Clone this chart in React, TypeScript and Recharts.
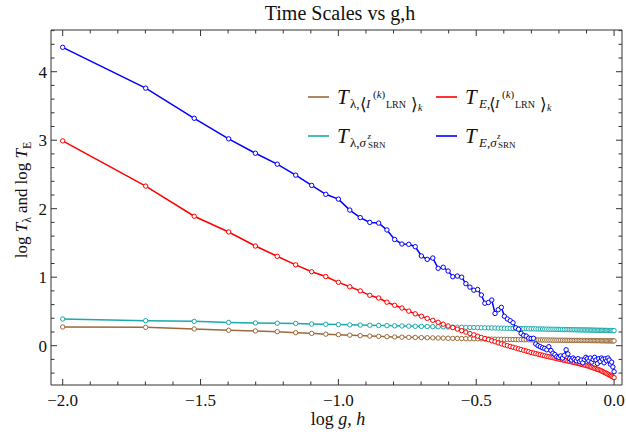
import React from 'react';
import { LineChart, Line, XAxis, YAxis } from 'recharts';

const gValues = [
  0.01, 0.02, 0.03, 0.04, 0.05, 0.06, 0.07, 0.08, 0.09, 0.10,
  0.11, 0.12, 0.13, 0.14, 0.15, 0.16, 0.17, 0.18, 0.19, 0.20,
  0.21, 0.22, 0.23, 0.24, 0.25, 0.26, 0.27, 0.28, 0.29, 0.30,
  0.31, 0.32, 0.33, 0.34, 0.35, 0.36, 0.37, 0.38, 0.39, 0.40,
  0.41, 0.42, 0.43, 0.44, 0.45, 0.46, 0.47, 0.48, 0.49, 0.50,
  0.51, 0.52, 0.53, 0.54, 0.55, 0.56, 0.57, 0.58, 0.59, 0.60,
  0.61, 0.62, 0.63, 0.64, 0.65, 0.66, 0.67, 0.68, 0.69, 0.70,
  0.71, 0.72, 0.73, 0.74, 0.75, 0.76, 0.77, 0.78, 0.79, 0.80,
  0.81, 0.82, 0.83, 0.84, 0.85, 0.86, 0.87, 0.88, 0.89, 0.90,
  0.91, 0.92, 0.93, 0.94, 0.95, 0.96, 0.97, 0.98, 0.99, 1.00,
];

// T_{λ,<I^(k)_LRN>_k}  (brown)
const tLambdaLRN = [
  0.273, 0.268, 0.244, 0.225, 0.215, 0.205, 0.19, 0.18, 0.168, 0.161,
  0.154, 0.147, 0.141, 0.136, 0.131, 0.127, 0.124, 0.122, 0.12, 0.118,
  0.116, 0.114, 0.112, 0.11, 0.108, 0.107, 0.106, 0.104, 0.103, 0.102,
  0.101, 0.1, 0.099, 0.098, 0.097, 0.096, 0.095, 0.094, 0.093, 0.092,
  0.091, 0.09, 0.0895, 0.089, 0.088, 0.088, 0.087, 0.087, 0.086, 0.086,
  0.085, 0.085, 0.084, 0.084, 0.083, 0.083, 0.082, 0.082, 0.082, 0.081,
  0.081, 0.08, 0.08, 0.08, 0.079, 0.079, 0.079, 0.078, 0.078, 0.078,
  0.077, 0.077, 0.077, 0.077, 0.076, 0.076, 0.076, 0.076, 0.075, 0.075,
  0.075, 0.075, 0.074, 0.074, 0.074, 0.073, 0.073, 0.073, 0.073, 0.072,
  0.072, 0.072, 0.072, 0.071, 0.071, 0.071, 0.071, 0.07, 0.07, 0.07,
];

// T_{E,<I^(k)_LRN>_k}  (red)
const tEnergyLRN = [
  2.99, 2.33, 1.89, 1.66, 1.455, 1.305, 1.18, 1.08, 1.01, 0.925,
  0.86, 0.8, 0.735, 0.696, 0.635, 0.59, 0.55, 0.505, 0.465, 0.43,
  0.399, 0.37, 0.341, 0.314, 0.288, 0.264, 0.242, 0.219, 0.198, 0.177,
  0.158, 0.139, 0.12, 0.105, 0.088, 0.072, 0.057, 0.041, 0.027, 0.013,
  0.0, -0.011, -0.023, -0.034, -0.046, -0.057, -0.068, -0.078, -0.089, -0.099,
  -0.108, -0.116, -0.124, -0.132, -0.14, -0.148, -0.155, -0.162, -0.169, -0.175,
  -0.182, -0.188, -0.194, -0.2, -0.207, -0.213, -0.218, -0.225, -0.23, -0.236,
  -0.241, -0.247, -0.253, -0.259, -0.265, -0.271, -0.276, -0.282, -0.288, -0.294,
  -0.301, -0.309, -0.316, -0.324, -0.331, -0.338, -0.346, -0.352, -0.359, -0.368,
  -0.378, -0.388, -0.396, -0.406, -0.416, -0.425, -0.436, -0.446, -0.457, -0.467,
];

// T_{λ,σ^z_SRN}  (cyan)
const tLambdaSRN = [
  0.39, 0.365, 0.355, 0.34, 0.332, 0.328, 0.325, 0.317, 0.313, 0.308,
  0.304, 0.301, 0.298, 0.295, 0.293, 0.29, 0.288, 0.286, 0.283, 0.282,
  0.28, 0.278, 0.276, 0.275, 0.273, 0.271, 0.27, 0.269, 0.267, 0.266,
  0.265, 0.264, 0.262, 0.261, 0.26, 0.259, 0.258, 0.257, 0.256, 0.255,
  0.254, 0.253, 0.252, 0.251, 0.251, 0.25, 0.249, 0.248, 0.247, 0.246,
  0.246, 0.245, 0.244, 0.244, 0.243, 0.242, 0.241, 0.241, 0.24, 0.24,
  0.239, 0.238, 0.238, 0.237, 0.236, 0.236, 0.235, 0.235, 0.234, 0.234,
  0.233, 0.233, 0.232, 0.232, 0.231, 0.23, 0.23, 0.23, 0.229, 0.229,
  0.228, 0.228, 0.227, 0.227, 0.226, 0.226, 0.225, 0.225, 0.224, 0.224,
  0.224, 0.223, 0.223, 0.222, 0.222, 0.222, 0.221, 0.221, 0.22, 0.22,
];

// T_{E,σ^z_SRN}  (blue)
const tEnergySRN = [
  4.356, 3.76, 3.32, 3.02, 2.81, 2.65, 2.49, 2.34, 2.21, 2.14,
  1.98, 1.87, 1.8, 1.79, 1.69, 1.55, 1.485, 1.48, 1.445, 1.31,
  1.26, 1.28, 1.13, 1.145, 1.09, 1.007, 1.017, 1.0, 0.905, 0.855,
  0.81, 0.82, 0.74, 0.62, 0.63, 0.667, 0.47, 0.525, 0.56, 0.43,
  0.39, 0.365, 0.335, 0.26, 0.24, 0.18, 0.15, 0.14, 0.11, 0.105,
  0.108, 0.025, 0.0, -0.015, -0.03, -0.04, -0.06, -0.015, -0.07, -0.11,
  -0.13, -0.16, -0.17, -0.15, -0.18, -0.14, -0.06, -0.12, -0.19, -0.21,
  -0.18, -0.2, -0.22, -0.19, -0.23, -0.21, -0.25, -0.2, -0.17, -0.19,
  -0.22, -0.18, -0.24, -0.2, -0.17, -0.21, -0.26, -0.19, -0.23, -0.18,
  -0.2, -0.25, -0.19, -0.22, -0.18, -0.21, -0.27, -0.24, -0.31, -0.38,
];

const xTicks = [-2.0, -1.9, -1.8, -1.7, -1.6, -1.5, -1.4, -1.3, -1.2, -1.1, -1.0, -0.9, -0.8, -0.7, -0.6, -0.5, -0.4, -0.3, -0.2, -0.1, 0.0];
const xMajorTicks = [-2.0, -1.5, -1.0, -0.5, 0.0];
const yTicks = [-0.4, -0.2, 0, 0.2, 0.4, 0.6, 0.8, 1, 1.2, 1.4, 1.6, 1.8, 2, 2.2, 2.4, 2.6, 2.8, 3, 3.2, 3.4, 3.6, 3.8, 4, 4.2, 4.4, 4.6];
const yMajorTicks = [0, 1, 2, 3, 4];

const data = gValues.map((g, i) => ({
  x: Math.log10(g),
  brown: tLambdaLRN[i],
  red: tEnergyLRN[i],
  cyan: tLambdaSRN[i],
  blue: tEnergySRN[i],
}));

const X_DOMAIN: [number, number] = [-2.0424, 0.0287];
const Y_DOMAIN: [number, number] = [-0.574, 4.609];

const FONT = '"Liberation Serif", "DejaVu Serif", serif';
const FRAME = '#333';
const C_BROWN = '#9a6a3a';
const C_RED = '#ff0000';
const C_CYAN = '#19aaaa';
const C_BLUE = '#0000ff';

const isMajor = (v: number, majors: number[]) => majors.some((m) => Math.abs(m - v) < 1e-6);
const fmtX = (v: number) => (Math.abs(v) < 1e-9 ? '0.0' : v.toFixed(1).replace('-', '\u2212'));

const makeXTick = (side: 'bottom' | 'top') => (props: any) => {
  const { x, y, payload } = props;
  const v = payload.value as number;
  const major = isMajor(v, xMajorTicks);
  const len = major ? 6 : 3.5;
  const dir = side === 'bottom' ? -1 : 1;
  return (
    <g>
      <line x1={x} x2={x} y1={y} y2={y + dir * len} stroke={FRAME} strokeWidth={1} />
      {side === 'bottom' && major ? (
        <text x={x} y={y + 21} textAnchor="middle" fontFamily="Liberation Serif" fontSize={17} fill="#111">
          {fmtX(v)}
        </text>
      ) : null}
    </g>
  );
};

const makeYTick = (side: 'left' | 'right') => (props: any) => {
  const { x, y, payload } = props;
  const v = payload.value as number;
  const major = isMajor(v, yMajorTicks);
  const len = major ? 6 : 3.5;
  const dir = side === 'left' ? 1 : -1;
  return (
    <g>
      <line x1={x} x2={x + dir * len} y1={y} y2={y} stroke={FRAME} strokeWidth={1} />
      {side === 'left' && major ? (
        <text x={x - 4} y={y + 6} textAnchor="end" fontFamily="Liberation Serif" fontSize={17} fill="#111">
          {String(Math.round(v))}
        </text>
      ) : null}
    </g>
  );
};

const dot = (c: string) => ({ r: 2.2, fill: '#ffffff', stroke: c, strokeWidth: 1 });

const LegendSample = ({ x, y, color }: { x: number; y: number; color: string }) => (
  <line x1={x} x2={x + 21} y1={y} y2={y} stroke={color} strokeWidth={1.6} />
);

export default function App() {
  return (
    <div style={{ position: 'absolute', left: 0, top: 0, width: 626, height: 436, background: '#fff', fontFamily: FONT }}>
      <LineChart
        width={626}
        height={436}
        data={data}
        margin={{ top: 20, right: 0, bottom: 21, left: 21 }}
      >
        <XAxis
          dataKey="x"
          type="number"
          domain={X_DOMAIN}
          allowDataOverflow
          ticks={xTicks}
          interval={0}
          tickSize={0}
          tickMargin={0}
          height={30}
          axisLine={{ stroke: FRAME }}
          tickLine={false}
          tick={makeXTick('bottom')}
        />
        <XAxis
          xAxisId="top"
          orientation="top"
          dataKey="x"
          type="number"
          domain={X_DOMAIN}
          allowDataOverflow
          ticks={xTicks}
          interval={0}
          tickSize={0}
          tickMargin={0}
          height={10}
          axisLine={{ stroke: FRAME }}
          tickLine={false}
          tick={makeXTick('top')}
        />
        <YAxis
          type="number"
          domain={Y_DOMAIN}
          allowDataOverflow
          ticks={yTicks}
          interval={0}
          tickSize={0}
          tickMargin={0}
          width={30}
          axisLine={{ stroke: FRAME }}
          tickLine={false}
          tick={makeYTick('left')}
        />
        <YAxis
          yAxisId="right"
          orientation="right"
          type="number"
          domain={Y_DOMAIN}
          allowDataOverflow
          ticks={yTicks}
          interval={0}
          tickSize={0}
          tickMargin={0}
          width={4}
          axisLine={{ stroke: FRAME }}
          tickLine={false}
          tick={makeYTick('right')}
        />
        <Line dataKey="brown" stroke={C_BROWN} strokeWidth={1.5} dot={dot(C_BROWN)} isAnimationActive={false} />
        <Line dataKey="cyan" stroke={C_CYAN} strokeWidth={1.5} dot={dot(C_CYAN)} isAnimationActive={false} />
        <Line dataKey="red" stroke={C_RED} strokeWidth={1.5} dot={dot(C_RED)} isAnimationActive={false} />
        <Line dataKey="blue" stroke={C_BLUE} strokeWidth={1.5} dot={dot(C_BLUE)} isAnimationActive={false} />
      </LineChart>
      <svg
        width={626}
        height={436}
        style={{ position: 'absolute', left: 0, top: 0, pointerEvents: 'none', fontFamily: FONT }}
        fill="#111"
      >
        <text x={340} y={20} textAnchor="middle" fontSize={20}>Time Scales vs g,h</text>

        <text x={338} y={425} textAnchor="middle" fontSize={18}>
          log <tspan fontStyle="italic">g</tspan>, <tspan fontStyle="italic">h</tspan>
        </text>

        <text transform="translate(27,200) rotate(-90)" textAnchor="middle" fontSize={17}>
          log <tspan fontStyle="italic">T</tspan>
          <tspan fontSize={12} dy={4}>λ</tspan>
          <tspan dy={-4} dx={4}>and</tspan>
          <tspan dx={4}>log </tspan>
          <tspan fontStyle="italic">T</tspan>
          <tspan fontSize={12} dy={4}>E</tspan>
        </text>

        <LegendSample x={308} y={97} color={C_BROWN} />
        <text fontSize={21}>
          <tspan x={337} y={104} fontStyle="italic">T</tspan>
          <tspan x={350} y={108} fontSize={13}>λ,</tspan>
          <tspan x={360} y={110} fontSize={17}>⟨</tspan>
          <tspan x={366} y={108} fontSize={13} fontStyle="italic">I</tspan>
          <tspan x={373} y={98} fontSize={11}>(<tspan fontStyle="italic">k</tspan>)</tspan>
          <tspan x={386} y={108} fontSize={10}>LRN</tspan>
          <tspan x={411} y={110} fontSize={17}>⟩</tspan>
          <tspan x={418} y={111} fontSize={10} fontStyle="italic">k</tspan>
        </text>

        <LegendSample x={436} y={97} color={C_RED} />
        <text fontSize={21}>
          <tspan x={465} y={104} fontStyle="italic">T</tspan>
          <tspan x={479} y={108} fontSize={13} fontStyle="italic">E</tspan>
          <tspan fontSize={13}>,</tspan>
          <tspan x={489} y={110} fontSize={17}>⟨</tspan>
          <tspan x={495} y={108} fontSize={13} fontStyle="italic">I</tspan>
          <tspan x={502} y={98} fontSize={11}>(<tspan fontStyle="italic">k</tspan>)</tspan>
          <tspan x={515} y={108} fontSize={10}>LRN</tspan>
          <tspan x={540} y={110} fontSize={17}>⟩</tspan>
          <tspan x={547} y={111} fontSize={10} fontStyle="italic">k</tspan>
        </text>

        <LegendSample x={308} y={136} color={C_CYAN} />
        <text fontSize={21}>
          <tspan x={337} y={143} fontStyle="italic">T</tspan>
          <tspan x={350} y={147} fontSize={13}>λ,</tspan>
          <tspan fontSize={13} fontStyle="italic">σ</tspan>
          <tspan x={367.5} y={139} fontSize={9} fontStyle="italic">z</tspan>
          <tspan x={368} y={148} fontSize={9}>SRN</tspan>
        </text>

        <LegendSample x={436} y={136} color={C_BLUE} />
        <text fontSize={21}>
          <tspan x={465} y={143} fontStyle="italic">T</tspan>
          <tspan x={479} y={147} fontSize={13} fontStyle="italic">E</tspan>
          <tspan fontSize={13}>,</tspan>
          <tspan fontSize={13} fontStyle="italic">σ</tspan>
          <tspan x={497} y={139} fontSize={9} fontStyle="italic">z</tspan>
          <tspan x={498} y={148} fontSize={9}>SRN</tspan>
        </text>
      </svg>
    </div>
  );
}
